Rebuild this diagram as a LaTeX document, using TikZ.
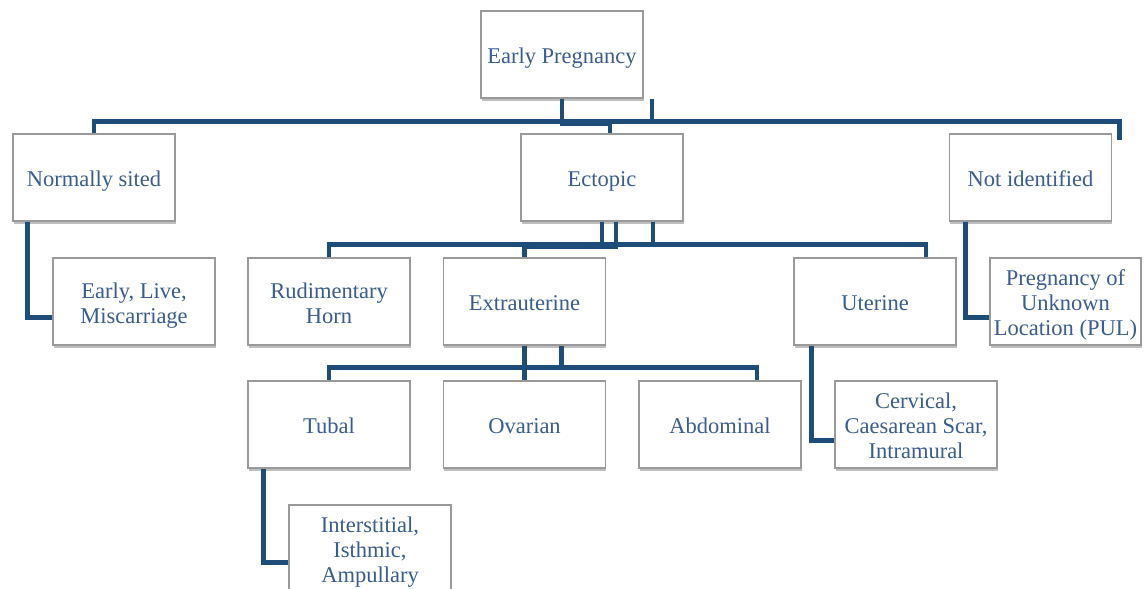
\documentclass[tikz,border=0pt]{standalone}
\usepackage{fontspec}
\setmainfont{Liberation Serif}
\usepackage{tikz}
\usepackage{xcolor}
\usetikzlibrary{calc, shadows}
\definecolor{linkcolor}{HTML}{1F4D7A}
\definecolor{textcolor}{HTML}{3A5C8E}
\definecolor{boxborder}{HTML}{9A9A9A}
\newcommand{\boxlines}[1]{\raisebox{-3pt}[\height][\depth]{\begin{tabular}{@{}c@{}}#1\end{tabular}}}
\tikzset{
    pbox/.style={draw=boxborder, line width=1pt, fill=white, minimum width=4.05cm, minimum height=2.175cm, inner sep=2pt, text=textcolor, font=\fontsize{16}{17.8}\selectfont, drop shadow={shadow xshift=0.6pt, shadow yshift=-2pt, fill=black, opacity=0.25}},
    link/.style={draw=linkcolor, line width=3.5pt, line cap=butt, line join=miter},
}

\begin{document}
\begin{tikzpicture}[x=0.025cm, y=-0.025cm]
\useasboundingbox (0,0) rectangle (1144,589);

% ============================================================
% TOP LEVEL
% ============================================================
\node[pbox] (early) at (562, 54.5) {\boxlines{Early Pregnancy}};

\node[pbox] (normal) at (94, 177.5) {\boxlines{Normally sited}};
\node[pbox] (ectopic) at (602, 177.5) {\boxlines{Ectopic}};
\node[pbox] (notid) at (1030.5, 177.5) {\boxlines{Not identified}};

\coordinate (notidend) at ($(notid.north east)+(7,7)$);

\draw[link] (early.south) -- ++(0,23) -| (normal.north);
\draw[link] (early.south) -- ++(0,25) -| ($(ectopic.north)+(8,0)$);
\draw[link] ($(early.south)+(90,0)$) -- ++(0,23);
\draw[link] (early.south) -- ++(0,23) -| (notidend);

% ============================================================
% SECOND LEVEL
% ============================================================
\node[pbox] (elm) at (134, 301.5) {\boxlines{Early, Live,\\Miscarriage}};
\node[pbox] (horn) at (329, 301.5) {\boxlines{Rudimentary\\Horn}};
\node[pbox] (extra) at (524.5, 301.5) {\boxlines{Extrauterine}};
\node[pbox] (uterine) at (875, 301.5) {\boxlines{Uterine}};
\node[pbox, minimum width=3.775cm] (pul) at (1065.5, 301.5) {\boxlines{Pregnancy of\\Unknown\\Location (PUL)}};

\draw[link] ($(normal.south west)+(15,0)$) |- ($(elm.west)+(0,16)$);
\draw[link] ($(notid.south west)+(17,0)$) |- ($(pul.west)+(0,16)$);

\draw[link] (ectopic.south) -- ++(0,23) -| (horn.north);
\draw[link] ($(ectopic.south)+(14,0)$) -- ++(0,25) -| (extra.north);
\draw[link] ($(ectopic.south)+(51,0)$) -- ++(0,23);
\draw[link] (ectopic.south) -- ++(0,23) -| ($(uterine.north)+(51,0)$);

% ============================================================
% THIRD LEVEL
% ============================================================
\node[pbox] (tubal) at (329, 424.5) {\boxlines{Tubal}};
\node[pbox] (ovarian) at (524.5, 424.5) {\boxlines{Ovarian}};
\node[pbox] (abdominal) at (720, 424.5) {\boxlines{Abdominal}};
\node[pbox] (cervical) at (916, 424.5) {\boxlines{Cervical,\\Caesarean Scar,\\Intramural}};

\draw[link] (extra.south) -- ++(0,22) -| (tubal.north);
\draw[link] (extra.south) -- (ovarian.north);
\draw[link] ($(extra.south)+(37,0)$) -- ++(0,22);
\draw[link] (extra.south) -- ++(0,22) -| ($(abdominal.north)+(37,0)$);

\draw[link] ($(uterine.south west)+(18,0)$) |- ($(cervical.west)+(0,16)$);

% ============================================================
% FOURTH LEVEL
% ============================================================
\node[pbox] (inter) at (370, 548.5) {\boxlines{Interstitial,\\Isthmic,\\Ampullary}};

\draw[link] ($(tubal.south west)+(16,0)$) |- ($(inter.west)+(0,14)$);

\end{tikzpicture}
\end{document}
